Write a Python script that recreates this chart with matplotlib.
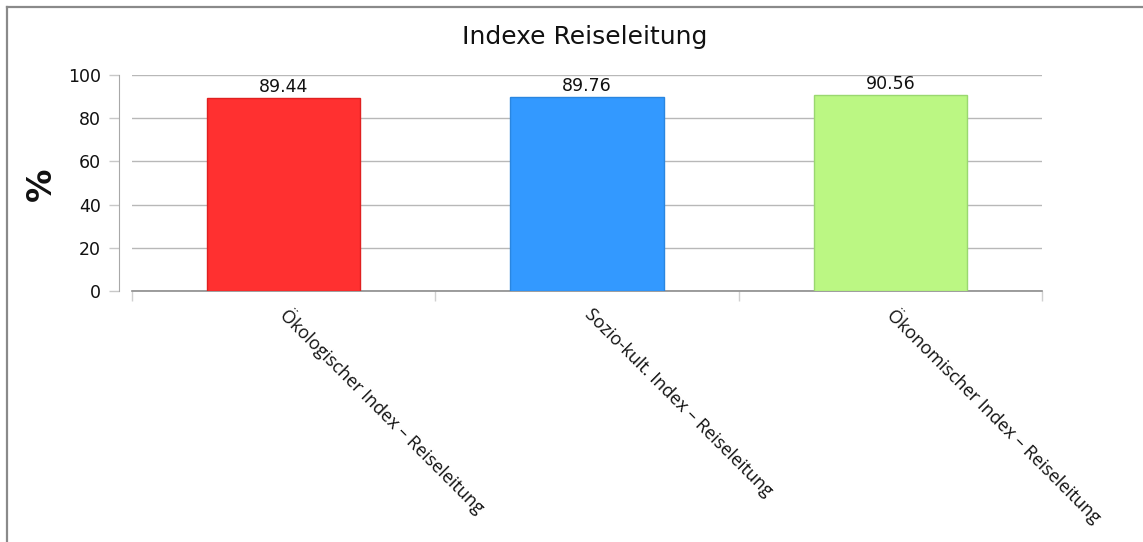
import matplotlib
matplotlib.use("Agg")
import matplotlib.pyplot as plt
from matplotlib.lines import Line2D

categories = [
    "Ökologischer Index – Reiseleitung",
    "Sozio-kult. Index – Reiseleitung",
    "Ökonomischer Index – Reiseleitung",
]
values = [89.44, 89.76, 90.56]
bar_colors = ["#ff3030", "#3399ff", "#bbf783"]
edge_colors = ["#e02020", "#2a86e0", "#9ad870"]
yticks = [0, 20, 40, 60, 80, 100]

W, H = 1143, 542
fig = plt.figure(figsize=(W / 100, H / 100), dpi=100)
fig.patch.set_facecolor("white")

ax = fig.add_axes([132 / W, 1 - 291 / H, 910 / W, 216 / H])

# detached y axis line left of the plot area
for side in ("top", "right"):
    ax.spines[side].set_visible(False)
ax.spines["left"].set_position(("outward", 9.4))
ax.spines["left"].set_color("#a8a8a8")
ax.spines["bottom"].set_color("#8c8c8c")
ax.spines["bottom"].set_linewidth(1.2)

x = list(range(len(categories)))
bars = ax.bar(x, values, width=0.505, color=bar_colors,
              edgecolor=edge_colors, linewidth=1, zorder=3)

for xi, v in zip(x, values):
    ax.annotate(f"{v:.2f}", (xi, v), xytext=(0, 1.5), textcoords="offset points",
                ha="center", va="bottom", fontsize=12.5, color="#111111",
                family="DejaVu Sans")

ax.set_xlim(-0.5, len(categories) - 0.5)
ax.set_ylim(0, 100)
ax.set_yticks(yticks)
ax.set_yticklabels([str(t) for t in yticks])
ax.tick_params(axis="y", length=7, width=1, color="#c8c8c8", pad=6,
               labelsize=12.5, labelcolor="#111111")
ax.yaxis.grid(True, color="#b8b8b8", linewidth=1, zorder=0)
ax.set_axisbelow(True)

# category labels at bar centres, boundary ticks between categories
ax.set_xticks(x)
ax.set_xticklabels(categories, rotation=-45, ha="left", va="center",
                   rotation_mode="anchor", fontsize=13, family="Open Sans",
                   color="#111111")
ax.tick_params(axis="x", which="major", length=0, pad=15)
ax.set_xticks([i - 0.5 for i in range(len(categories) + 1)], minor=True)
ax.tick_params(axis="x", which="minor", length=7, width=1, color="#d0d0d0")

fig.text(41 / W, 1 - 184 / H, "%", rotation=90, ha="center", va="center",
         fontsize=24, fontweight="bold", color="#111111")

fig.text(585 / W, 1 - 37 / H, "Indexe Reiseleitung", ha="center", va="center",
         fontsize=18, color="#111111")

# frame lines along top and left edge
fig.add_artist(Line2D([6.5 / W, 6.5 / W], [0, 1 - 7 / H], transform=fig.transFigure,
                      color="#8a8a8a", linewidth=1.6))
fig.add_artist(Line2D([6.5 / W, 1], [1 - 7 / H, 1 - 7 / H], transform=fig.transFigure,
                      color="#8a8a8a", linewidth=1.6))

fig.savefig("out.png", dpi=100)
